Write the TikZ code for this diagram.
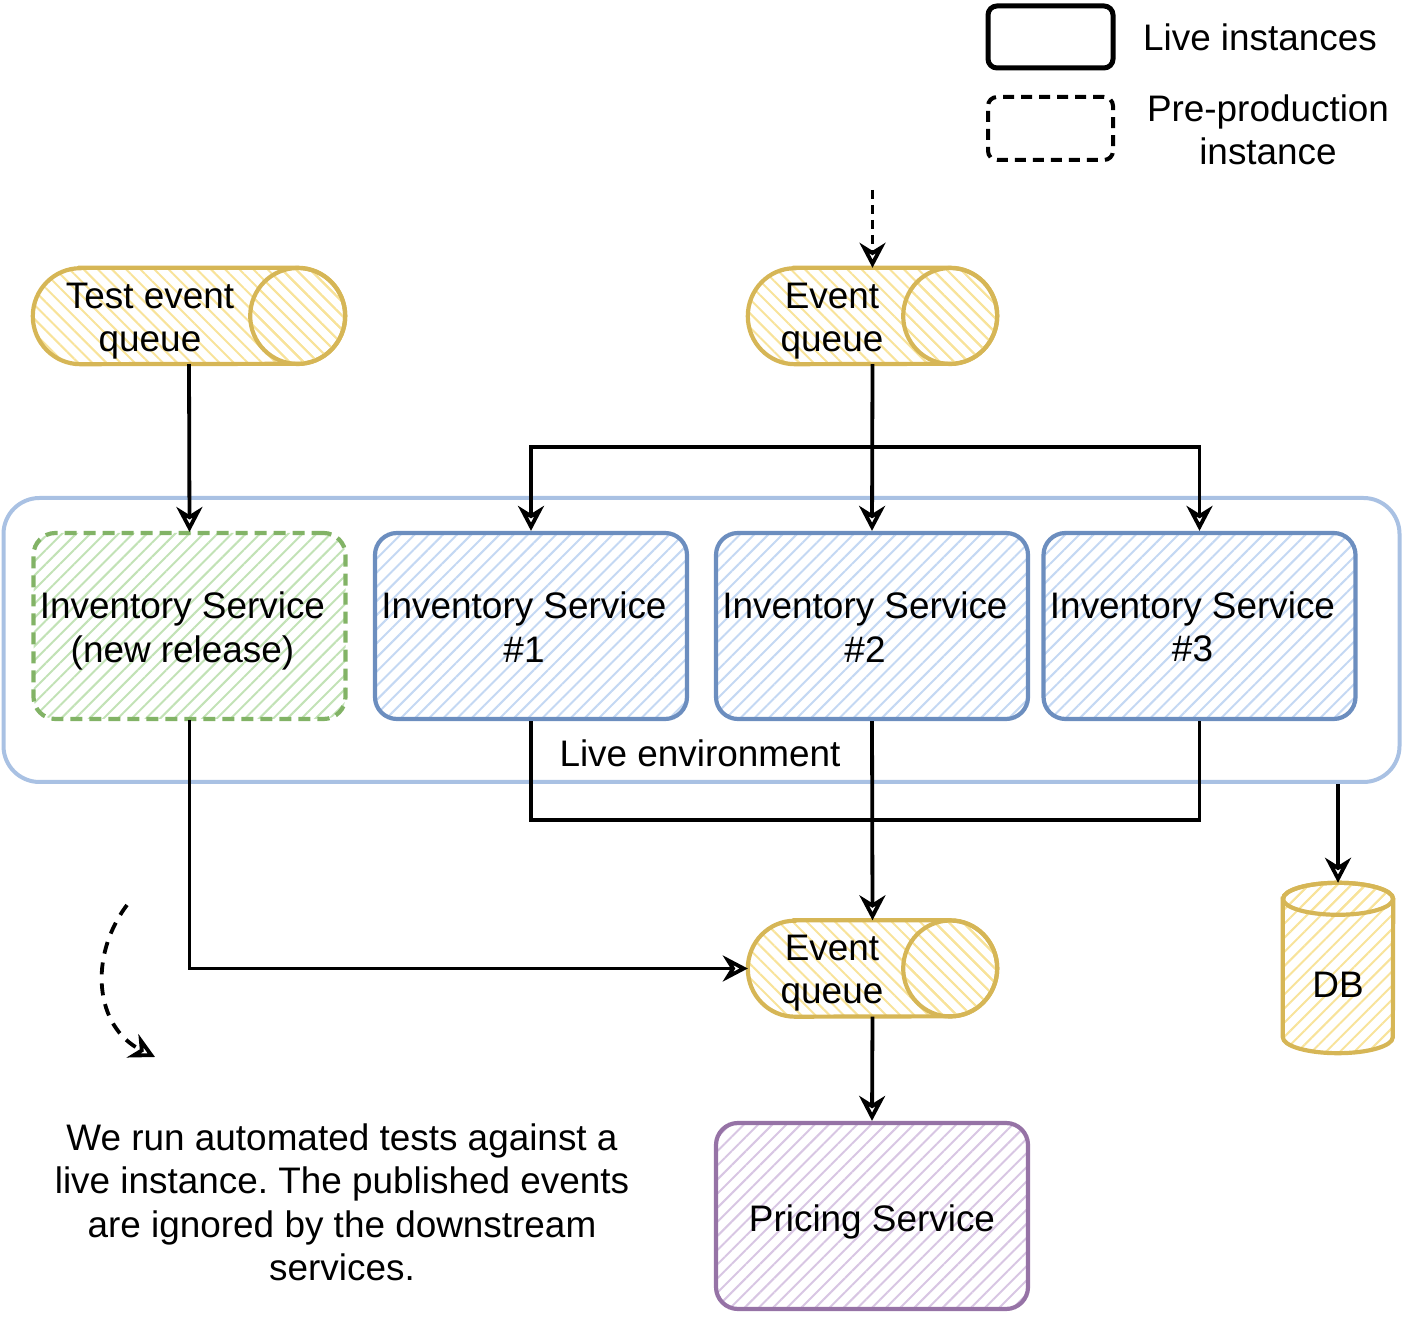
\documentclass[tikz,border=0pt]{standalone}
\usepackage{fontspec}
\setmainfont{Liberation Sans}
\frenchspacing
\usetikzlibrary{arrows.meta,patterns.meta,calc}
\definecolor{ystroke}{HTML}{D6B656}
\definecolor{yhatch}{HTML}{F8E39A}
\definecolor{bstroke}{HTML}{6C8EBF}
\definecolor{bhatch}{HTML}{C4D8F3}
\definecolor{gstroke}{HTML}{82B366}
\definecolor{ghatch}{HTML}{C2E2B6}
\definecolor{pstroke}{HTML}{9673A6}
\definecolor{phatch}{HTML}{D8C6E3}
\definecolor{envstroke}{HTML}{A9C1E3}
\newcommand\hcyl[2]{%
  \draw[qstyle] ([xshift=#2pt]#1.north west) -- ([xshift=-#2pt]#1.north east)
    arc[start angle=90,end angle=-90,x radius=#2,y radius=48]
    -- ([xshift=#2pt]#1.south west)
    arc[start angle=270,end angle=90,x radius=#2,y radius=48] -- cycle;
  \draw[qstyle] ([xshift=-#2pt]#1.east) ellipse[x radius=#2,y radius=48];}
\begin{document}
\begin{tikzpicture}[x=1pt,y=1pt,
  font=\fontsize{36.9pt}{43.5pt}\selectfont,
  conn/.style={line width=3.8pt,black},
  arr/.style={conn,-{Stealth[open,length=25pt,width=26pt,inset=8pt]}},
  svc/.style={rounded corners=22pt,line width=4.2pt,minimum width=312pt,
    minimum height=186pt,inner sep=0pt},
  stext/.style={label={[txt,xshift=-7pt,yshift=-1pt]center:{#1}}},
  gtext/.style={label={[txt,xshift=-7pt,yshift=-5pt]center:{#1}}},
  hatch/.style={pattern={Lines[angle=45,distance=10pt,line width=2pt]},pattern color=#1},
  bluebox/.style={svc,draw=bstroke,hatch=bhatch},
  greenbox/.style={svc,draw=gstroke,dash pattern=on 12pt off 7pt,hatch=ghatch},
  purplebox/.style={svc,draw=pstroke,hatch=phatch},
  qbox/.style={minimum width=312pt,minimum height=96pt,inner sep=0pt},
  qstyle/.style={draw=ystroke,line width=4.2pt,
    pattern={Lines[angle=-45,distance=10pt,line width=2pt]},pattern color=yhatch},
  dbstyle/.style={draw=ystroke,line width=4.2pt,hatch=yhatch},
  txt/.style={align=center,inner sep=0pt},
  legsolid/.style={draw=black,line width=5pt,rounded corners=9pt,
    minimum width=125pt,minimum height=62pt,inner sep=0pt},
  legdash/.style={draw=black,line width=4pt,rounded corners=9pt,dash pattern=on 11pt off 7pt,
    minimum width=125pt,minimum height=63pt,inner sep=0pt}
]
\useasboundingbox (0,0) rectangle (1404,1317);

% legend
\node[legsolid] (legA) at (1050.5,1280) {};
\node[legdash] (legB) at (1050.5,1188.5) {};
\node[txt] (legAt) at (1260,1280) {Live instances};
\node[txt] (legBt) at (1268,1187) {Pre-production\\instance};

% live environment
\node[draw=envstroke,line width=4pt,rounded corners=36pt,minimum width=1396pt,
  minimum height=284pt,inner sep=0pt] (live) at (701.5,677) {};
\node[txt] (livet) at (700,564) {Live environment};

% services
\node[greenbox,gtext={Inventory Service\\(new release)}] (nr) at (189.5,691) {};
\node[bluebox,stext={Inventory Service\\\#1}] (s1) at (531,691) {};
\node[bluebox,stext={Inventory Service\\\#2}] (s2) at (872,691) {};
\node[bluebox,stext={Inventory Service\\\#3}] (s3) at (1199.5,691) {};
\node[purplebox,label={[txt,yshift=-6pt]center:{Pricing Service}}] (ps) at (872,101) {};

% queues
\node[qbox] (tq) at (189,1001) {};
\hcyl{tq}{47.5}
\node[txt] (tqt) at (150,996) {Test event\\queue};
\node[qbox,minimum width=249pt] (eq1) at (872.5,1001) {};
\hcyl{eq1}{47}
\node[txt] (eq1t) at (832,996) {Event\\queue};
\node[qbox,minimum width=249pt] (eq2) at (872.5,348.5) {};
\hcyl{eq2}{47}
\node[txt] (eq2t) at (832,344) {Event\\queue};

% DB
\node[minimum width=110pt,minimum height=170pt,inner sep=0pt] (db) at (1338,349) {};
\draw[dbstyle] ([yshift=-16pt]db.north west) -- ([yshift=16pt]db.south west)
  arc[start angle=180,end angle=360,x radius=55,y radius=16]
  -- ([yshift=-16pt]db.north east)
  arc[start angle=0,end angle=180,x radius=55,y radius=16] -- cycle;
\draw[dbstyle] ([yshift=-16pt]db.north) ellipse[x radius=55,y radius=16];
\node[txt] (dbt) at (1338,332) {DB};

% note
\node[txt] (note) at (342,114.5) {We run automated tests against a\\live instance. The published events\\are ignored by the downstream\\services.};

% connectors
\coordinate (src) at (872.5,1127);
\coordinate (br) at (0,870);
\coordinate (mg) at (0,497);
\coordinate (ca) at (127,412);
\coordinate (cb) at (155,260);

\draw[arr,dash pattern=on 9pt off 6pt] (src) -- (eq1.north);
\draw[arr] (tq.south) -- (nr.north);
\draw[arr] (eq1.south) -- (s2.north);
\draw[arr] (eq1.south |- br) -| (s1.north);
\draw[arr] (eq1.south |- br) -| (s3.north);
\draw[conn] (s1.south) -- (s1.south |- mg) -| (s3.south);
\draw[arr] (s2.south) -- (eq2.north);
\draw[arr] (nr.south) |- (eq2.west);
\draw[arr] (live.south -| db.north) -- (db.north);
\draw[arr] (eq2.south) -- (ps.north);
\draw[arr,dash pattern=on 12pt off 9pt] (ca) .. controls (88,360) and (95,290) .. (cb);
\end{tikzpicture}
\end{document}
